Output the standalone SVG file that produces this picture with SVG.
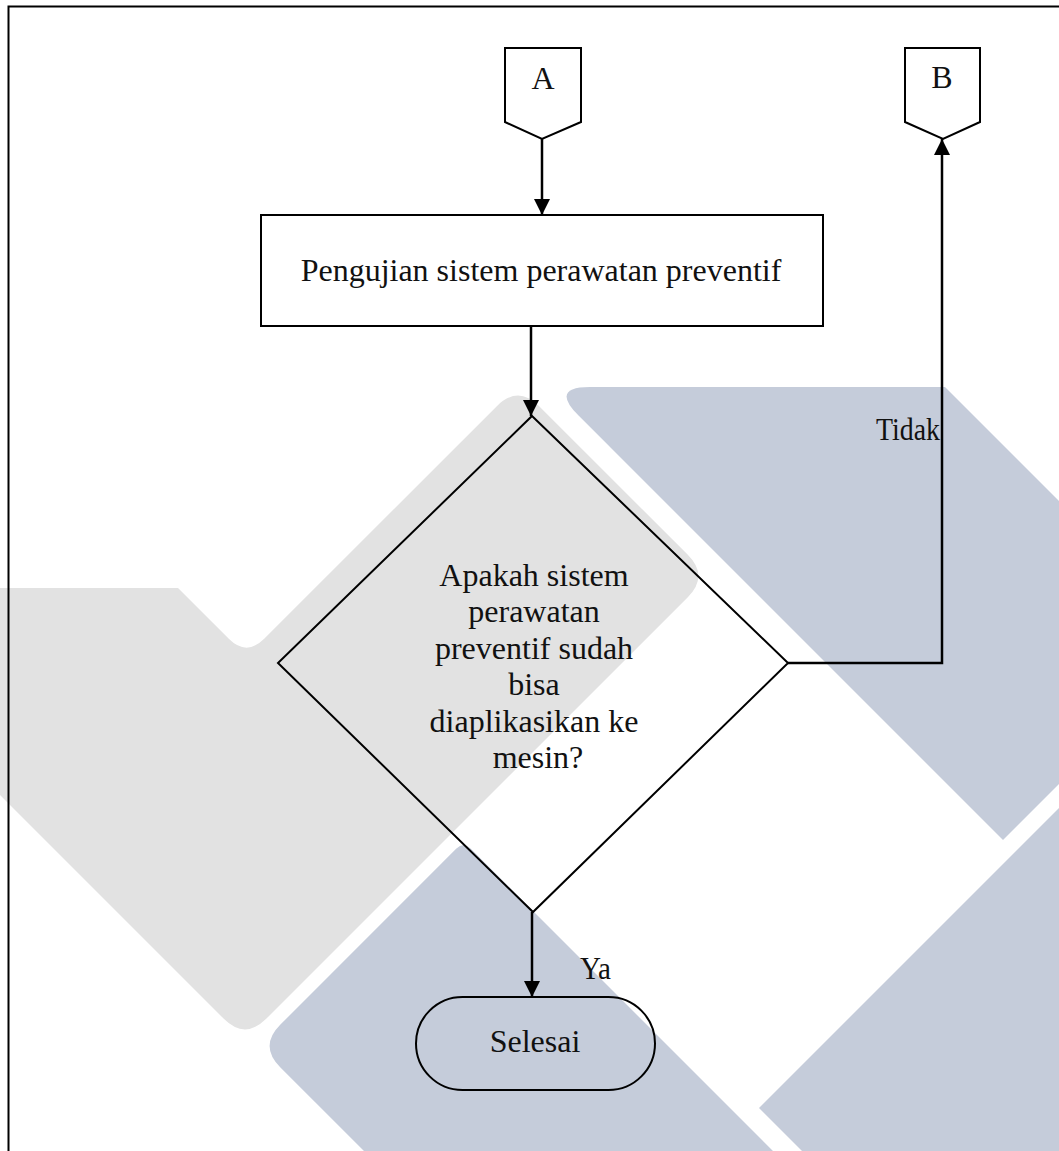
<svg xmlns="http://www.w3.org/2000/svg" width="1059" height="1151" viewBox="0 0 1059 1151">
  <style>
    .bgG { fill: #e2e2e2; }
    .bgB { fill: #c5ccda; }
    .shape { fill: none; stroke: #000; stroke-width: 2; }
    .conn { fill: none; stroke: #000; stroke-width: 2.5; }
    .txt { font-family: "Liberation Serif", "Times New Roman", serif; font-size: 32px; fill: #111; text-anchor: middle; }
    .lbl { font-family: "Liberation Serif", "Times New Roman", serif; font-size: 32px; fill: #111; }
  </style>
  <defs>
    <marker id="arrow" markerUnits="userSpaceOnUse" markerWidth="16" markerHeight="16" refX="16" refY="8" orient="auto">
      <path d="M0,0 L16,8 L0,16 z" fill="#000"/>
    </marker>
  </defs>
  <rect width="1059" height="1151" fill="#ffffff"/>
  <g id="watermark">
    <path class="bgG" d="M0,588 L178,588 L228.8,638.8 Q246.5,656.5 264.2,638.8 L496.8,406.2 Q518,385 539.2,406.2 L687.8,554.8 Q709,576 687.8,597.2 L266.2,1018.8 Q245,1040 223.8,1018.8 L0,795 Z"/>
    <path class="bgB" d="M590,387 L945,387 L1059,501 L1059,784 L1003,840 L578.3,415.3 Q550,387 590,387 Z"/>
    <path class="bgB" d="M456.4,848.6 Q463.5,841.5 470.6,848.6 L773,1151 L364,1151 L280.2,1067.2 Q259,1046 280.2,1024.8 Z"/>
    <path class="bgB" d="M1059,808 L759,1108 L802,1151 L1059,1151 Z"/>
  </g>
  <path id="frame" d="M8.5,1151 L8.5,6.5 L1059,6.5" fill="none" stroke="#000" stroke-width="2"/>
  <g id="connectors">
    <path class="conn" d="M542,139 L542,215" marker-end="url(#arrow)"/>
    <path class="conn" d="M531,326 L531,416" marker-end="url(#arrow)"/>
    <path class="conn" d="M788,663 L942,663 L942,139" marker-end="url(#arrow)"/>
    <path class="conn" d="M532,912 L532,997" marker-end="url(#arrow)"/>
    <text class="lbl" x="940" y="440" text-anchor="end" font-size="40" textLength="64" lengthAdjust="spacingAndGlyphs">Tidak</text>
    <text class="lbl" x="580" y="979" font-size="30" textLength="31" lengthAdjust="spacingAndGlyphs">Ya</text>
  </g>
  <g id="nodeA">
    <path class="shape" d="M505,48 L581,48 L581,122 L542,139 L505,122 Z"/>
    <text class="txt" x="543" y="89" font-size="30">A</text>
  </g>
  <g id="nodeB">
    <path class="shape" d="M905,48 L980,48 L980,122 L943,139 L905,122 Z"/>
    <text class="txt" x="942" y="88" font-size="30">B</text>
  </g>
  <g id="nodeProcess">
    <rect class="shape" x="261" y="215" width="562" height="111"/>
    <text class="txt" x="541" y="281">Pengujian sistem perawatan preventif</text>
  </g>
  <g id="nodeDecision">
    <path class="shape" d="M532,416 L788,663 L533,912 L278,663 Z"/>
    <text class="txt">
      <tspan x="538" y="586">Apakah sistem</tspan>
      <tspan x="538" y="622">perawatan</tspan>
      <tspan x="538" y="659">preventif sudah</tspan>
      <tspan x="538" y="695">bisa</tspan>
      <tspan x="538" y="732">diaplikasikan ke</tspan>
      <tspan x="538" y="768">mesin?</tspan>
    </text>
  </g>
  <g id="nodeEnd">
    <rect class="shape" x="416" y="997" width="239" height="93" rx="46.5" ry="46.5"/>
    <text class="txt" x="535" y="1052">Selesai</text>
  </g>
</svg>
